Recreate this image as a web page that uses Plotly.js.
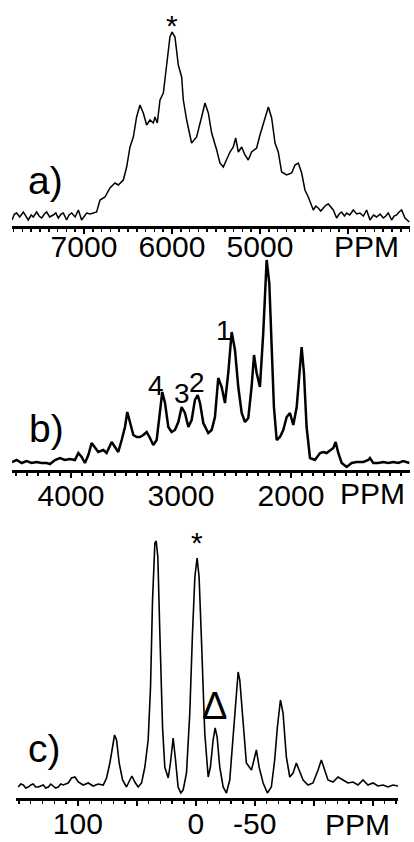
<!DOCTYPE html>
<html>
<head>
<meta charset="utf-8">
<script src="https://cdn.plot.ly/plotly-3.0.1.min.js"></script>
<style>
html,body{margin:0;padding:0;background:#fff;}
#chart{width:414px;height:842px;}
</style>
</head>
<body>
<div id="chart"></div>
<script>
// ---- Panel a) ----
const aPpm = [7818,7790,7765,7730,7689,7660,7633,7600,7576,7538,7510,7481,7450,7424,7390,7349,7320,7292,7260,7235,7197,7170,7140,7100,7064,7027,6995,6970,6930,6894,6856,6818,6761,6705,6648,6610,6553,6515,6477,6439,6402,6364,6326,6288,6250,6212,6193,6167,6136,6098,6061,6023,6000,5966,5928,5890,5871,5833,5777,5720,5663,5625,5587,5549,5492,5455,5417,5379,5341,5303,5276,5246,5208,5170,5133,5095,5038,5000,4943,4905,4867,4829,4792,4754,4697,4640,4602,4564,4526,4489,4451,4394,4365,4337,4310,4280,4250,4223,4195,4167,4129,4100,4072,4040,4015,3980,3939,3900,3864,3825,3788,3750,3710,3674,3635,3598,3570,3542,3504,3475,3447,3420,3390,3352,3303];
const aInt = [6,12,13,9,14,10,6,11,9,14,10,8,12,14,9,11,13,8,12,13,6,11,13,9,16,6,10,13,12,13,14,26,29,38,43,41,46,59,79,89,109,121,113,101,106,103,109,103,126,133,159,189,194,189,161,149,126,106,83,89,109,123,113,93,76,63,59,66,74,79,88,74,79,71,66,74,78,91,109,119,108,83,74,54,51,53,61,63,53,36,29,16,20,18,15,18,21,22,19,16,8,12,14,10,13,11,16,12,13,10,16,6,11,9,12,8,10,13,6,10,11,14,16,8,4];

// ---- Panel b) ----
const bPpm = [4536,4494,4448,4403,4358,4312,4267,4221,4191,4145,4100,4055,4009,3964,3933,3903,3873,3842,3812,3782,3752,3706,3676,3630,3600,3570,3539,3509,3488,3464,3433,3403,3373,3342,3312,3282,3252,3221,3191,3170,3145,3115,3085,3055,3024,2994,2964,2933,2903,2873,2848,2827,2797,2752,2721,2691,2661,2630,2600,2570,2539,2509,2479,2448,2418,2388,2358,2336,2312,2282,2252,2221,2197,2176,2155,2130,2100,2070,2039,2009,1979,1948,1924,1903,1882,1858,1827,1782,1736,1706,1676,1645,1615,1594,1570,1539,1494,1448,1403,1342,1297,1282,1252,1206,1161,1115,1070,1024,979,924];
const bInt = [8,10,7,9,7,8,7,7,6,10,12,10,11,10,17,13,7,15,27,22,18,20,17,28,23,18,30,43,58,48,35,33,33,35,38,32,25,30,57,78,67,43,38,40,48,63,57,43,50,70,75,67,47,37,40,53,92,83,67,97,138,120,83,57,48,52,83,115,97,83,137,210,187,130,63,30,33,40,53,57,45,63,97,123,97,43,12,10,17,18,17,20,22,28,17,7,3,7,8,8,10,12,7,7,8,7,8,7,9,7];

// ---- Panel c) ----
const cPpm = [150.6,148.5,146.3,144.2,142.1,140.0,137.9,135.8,133.6,131.5,129.4,127.3,125.1,123.0,120.9,118.8,116.7,114.5,112.4,108.2,105.4,102.5,99.7,95.5,91.2,87.0,82.8,78.5,75.7,72.9,70.6,68.9,67.2,65.0,62.1,58.8,55.9,54.2,51.7,48.9,46.0,43.2,40.4,38.4,36.7,34.7,33.6,32.2,30.5,28.2,26.3,23.4,21.5,19.2,17.2,15.0,12.7,10.7,7.9,5.1,2.8,0.8,-1.1,-2.8,-4.8,-7.6,-10.5,-12.4,-14.7,-16.4,-18.1,-20.3,-23.2,-26.0,-28.8,-31.6,-33.9,-35.9,-37.3,-39.5,-42.9,-47.2,-49.4,-51.4,-53.7,-57.1,-60.7,-64.1,-66.9,-69.2,-71.8,-74.0,-76.8,-79.7,-82.5,-85.3,-87.6,-91.0,-95.2,-99.4,-103.7,-106.5,-109.3,-112.1,-116.4,-120.6,-124.9,-129.1,-133.3,-137.6,-141.8,-146.0,-150.3,-154.5,-158.8,-163.0,-167.2,-171.5];
const cInt = [11,14,13,10,11,13,14,11,11,12,13,10,11,14,12,10,11,14,13,15,20,21,16,13,15,12,14,13,20,35,51,63,58,35,18,11,18,22,16,11,15,31,58,111,198,255,257,241,165,71,31,20,35,60,38,11,5,8,25,85,165,221,240,221,158,65,21,31,58,70,61,31,11,5,18,58,98,126,118,85,35,28,40,48,31,15,5,11,38,71,98,85,41,21,25,35,28,18,13,15,28,38,28,18,16,21,18,15,16,13,18,13,15,12,13,11,13,12];

// ---- Tick labels ----
const aTickVals = [7000, 6000, 5000, 4000];
const aTickText = ['7000', '6000', '5000', ''];
const bTickVals = [4000, 3000, 2000];
const bTickText = ['4000', '3000', '2000'];
const cTickVals = [100, 50, 0, -50, -100, -150];
const cTickText = ['100', '', '0', '-50', '', ''];

// ---- Peak markers (ppm, intensity) ----
const bPeakLabels = ['1', '2', '3', '4'];
const bPeakPpm = [2609, 2855, 2991, 3227];
const bPeakInt = [140, 88, 77, 85];

const FONT = 'Liberation Sans, Arial, sans-serif';

function xAxis(domain, range, tv, tt, minorDtick, standoff) {
  return {
    domain: domain, range: range, showgrid: false, zeroline: false,
    showline: true, linewidth: 3, linecolor: '#000',
    ticks: 'outside', ticklen: 5, tickwidth: 2, tickcolor: '#000',
    tickmode: 'array', tickvals: tv, ticktext: tt,
    minor: {dtick: minorDtick, ticks: 'outside', ticklen: 3, tickwidth: 1.5, tickcolor: '#000', showgrid: false},
    tickfont: {family: FONT, size: 30, color: '#000'},
    ticklabelstandoff: standoff,
    fixedrange: true
  };
}
function yAxis(domain, range, anchor) {
  return {domain: domain, range: range, visible: false, fixedrange: true, anchor: anchor};
}

const traces = [
  {x: aPpm, y: aInt, xaxis: 'x', yaxis: 'y', mode: 'lines', line: {color: '#000', width: 1.5}, hoverinfo: 'skip'},
  {x: bPpm, y: bInt, xaxis: 'x2', yaxis: 'y2', mode: 'lines', line: {color: '#000', width: 2.5}, hoverinfo: 'skip'},
  {x: cPpm, y: cInt, xaxis: 'x3', yaxis: 'y3', mode: 'lines', line: {color: '#000', width: 1.6}, hoverinfo: 'skip'}
];

const ann = [];
function paperText(text, px, py, size) {
  ann.push({text: text, xref: 'paper', yref: 'paper', x: px / 414, y: 1 - py / 842,
            xanchor: 'center', yanchor: 'middle', showarrow: false,
            font: {family: FONT, size: size, color: '#000'}});
}
paperText('a)', 45, 181, 39);
paperText('b)', 46, 428, 39);
paperText('c)', 44, 748, 39);
paperText('PPM', 366, 247, 30);
paperText('PPM', 372, 494, 30);
paperText('PPM', 357, 824, 30);

function dataText(text, xr, yr, x, y, size) {
  ann.push({text: text, xref: xr, yref: yr, x: x, y: y, xanchor: 'center', yanchor: 'middle',
            showarrow: false, font: {family: FONT, size: size, color: '#000'}});
}
dataText('*', 'x', 'y', 6000, 200, 30);
dataText('*', 'x3', 'y3', -1, 256, 30);
dataText('Δ', 'x3', 'y3', -16, 92, 38);
for (let i = 0; i < bPeakLabels.length; i++) {
  dataText(bPeakLabels[i], 'x2', 'y2', bPeakPpm[i], bPeakInt[i], 28);
}

const layout = {
  width: 414, height: 842,
  margin: {l: 0, r: 0, t: 0, b: 0},
  paper_bgcolor: '#fff', plot_bgcolor: 'rgba(0,0,0,0)',
  showlegend: false,
  xaxis: xAxis([12/414, 410/414], [7818, 3295], aTickVals, aTickText, 100, -13),
  yaxis: yAxis([1 - 226/842, 1 - 16/842], [0, 210], 'x'),
  xaxis2: xAxis([12/414, 410/414], [4536, 918], bTickVals, bTickText, 100, -8),
  yaxis2: yAxis([1 - 470/842, 1 - 250/842], [0, 220], 'x2'),
  xaxis3: xAxis([16/414, 398/414], [152.5, -171.5], cTickVals, cTickText, 10, -8),
  yaxis3: yAxis([1 - 798/842, 1 - 528/842], [0, 270], 'x3'),
  annotations: ann
};
layout.xaxis.anchor = 'y';
layout.xaxis2.anchor = 'y2';
layout.xaxis3.anchor = 'y3';

Plotly.newPlot('chart', traces, layout, {displayModeBar: false, staticPlot: true});
</script>
</body>
</html>
